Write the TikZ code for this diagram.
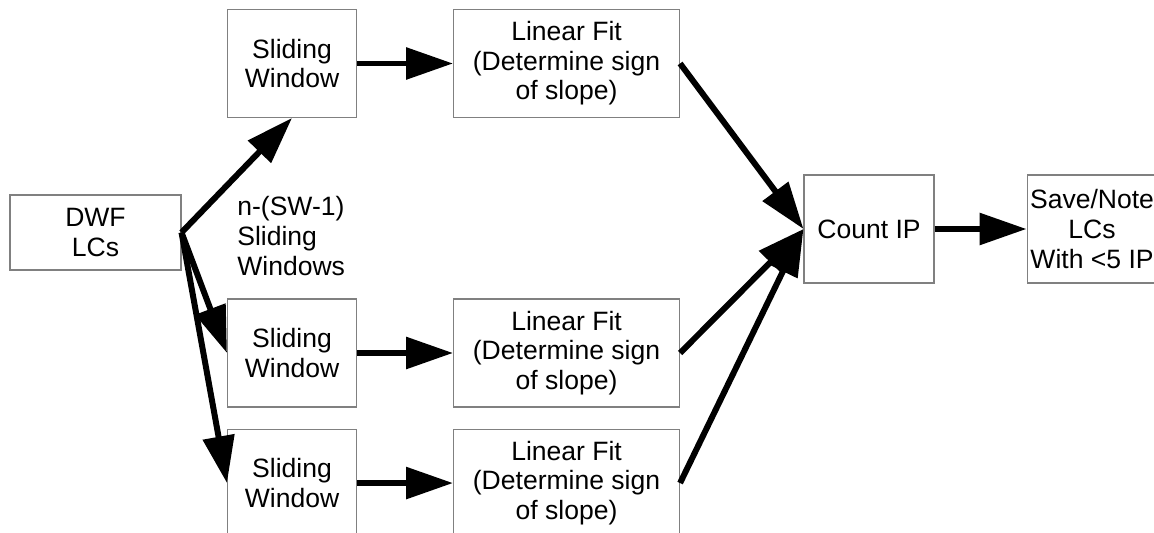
\documentclass[tikz,border=0pt]{standalone}
\usepackage{fontspec}
\setmainfont{Liberation Sans}
\usetikzlibrary{positioning,arrows.meta}

\begin{document}
\begin{tikzpicture}[node distance={1.92cm},
        box/.style = {draw=gray, line width=0.6pt, inner sep=0pt, minimum height=2.16cm, align=center, font=\fontsize{15.1}{16.8}\selectfont},
        arr/.style = {-{Triangle[length=0.94cm, width=0.62cm]}, line width=3.4pt}]
        \useasboundingbox (0,0) rectangle (23.08,-10.66);
        \node[box, minimum width=3.42cm, minimum height=1.5cm] (dwf) at (1.91,-4.65) {DWF\\LCs};
        \node[box, minimum width=2.58cm] (sw1) at (5.84,-1.27) {Sliding\\Window};
        \node[box, minimum width=2.58cm] (sw2) at (5.84,-7.06) {Sliding\\Window};
        \node[box, minimum width=2.58cm] (sw3) [below=0.42cm of sw2] {Sliding\\Window};
        \node[box, minimum width=4.52cm] (lf1) [right=of sw1] {Linear Fit\\(Determine sign\\of slope)};
        \node[box, minimum width=4.52cm] (lf2) [right=of sw2] {Linear Fit\\(Determine sign\\of slope)};
        \node[box, minimum width=4.52cm] (lf3) [right=of sw3] {Linear Fit\\(Determine sign\\of slope)};
        \node[box, minimum width=2.6cm] (cnt) at (17.38,-4.58) {Count IP};
        \node[box, minimum width=2.6cm] (save) [right=1.84cm of cnt] {Save/Note\\LCs\\With <5 IP};
        \node[anchor=west, align=left, inner sep=0pt, font=\fontsize{15.1}{16.8}\selectfont] (nsw) at (4.74,-4.72) {n-(SW-1)\\Sliding\\Windows};
        \draw[arr] (dwf.east) -- (sw1.south);
        \draw[arr] (dwf.east) -- (sw2.west);
        \draw[arr] (dwf.east) -- (sw3.west);
        \draw[arr] (sw1) -- (lf1);
        \draw[arr] (sw2) -- (lf2);
        \draw[arr] (sw3) -- (lf3);
        \draw[arr] (lf1.east) -- (cnt.west);
        \draw[arr] (lf2.east) -- (cnt.west);
        \draw[arr] (lf3.east) -- (cnt.west);
        \draw[arr] (cnt) -- (save);
    \end{tikzpicture}
\end{document}
